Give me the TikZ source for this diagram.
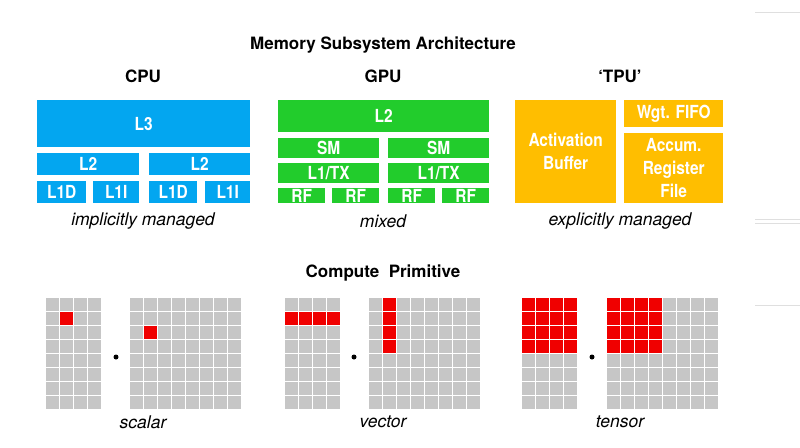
\documentclass[tikz,border=0pt]{standalone}
\usepackage{fontspec}
\setmainfont{TeX Gyre Heros}
\newfontfamily\narrowbf[FakeStretch=0.86]{TeX Gyre Heros}
\definecolor{cpublue}{RGB}{3,166,240}
\definecolor{gpugreen}{RGB}{34,204,44}
\definecolor{tpuorange}{RGB}{255,190,0}
\definecolor{cellgray}{RGB}{198,198,198}
\definecolor{cellred}{RGB}{240,0,0}
\begin{document}
\begin{tikzpicture}[x=1pt,y=-1pt,
  blk/.style={draw=none,anchor=north west,inner sep=0pt,align=center,text=white,
    font=\narrowbf\fontsize{18}{23}\selectfont\bfseries},
  head/.style={font=\fontsize{17}{19}\selectfont\bfseries},
  lbl/.style={font=\fontsize{17.5}{19}\selectfont\itshape}]
\useasboundingbox (0,0) rectangle (800,447);
% slide edge artefacts
\foreach \yy in {12,219,223,305}
  \draw[gray!25,line width=0.8pt] (755,\yy) -- (800,\yy);

% block macro: name, x1, y1, x2, y2, colour, text
\def\blockat#1#2#3#4#5#6#7{%
  \node[blk,fill=#6,minimum width={#4-#2},minimum height={#5-#3}] (#1) at (#2,#3) {#7};}

\node[head] (title) at (383,45) {Memory Subsystem Architecture};
\node[head] (cpu) at (143,76) {CPU};
\node[head] (gpu) at (383,76) {GPU};
\node[head] (tpu) at (620,76) {‘TPU’};

% CPU
\blockat{l3}{37}{100}{250}{147}{cpublue}{L3}
\blockat{cl2a}{37}{153}{139}{175}{cpublue}{L2}
\blockat{cl2b}{149}{153}{250}{175}{cpublue}{L2}
\blockat{l1da}{37}{181}{86}{203}{cpublue}{L1D}
\blockat{l1ia}{93}{181}{139}{203}{cpublue}{L1I}
\blockat{l1db}{149}{181}{197}{203}{cpublue}{L1D}
\blockat{l1ib}{205}{181}{250}{203}{cpublue}{L1I}

% GPU
\blockat{gl2}{278}{100}{489}{132}{gpugreen}{L2}
\blockat{sma}{278}{138}{379}{158}{gpugreen}{SM}
\blockat{smb}{388}{138}{489}{158}{gpugreen}{SM}
\blockat{txa}{278}{163}{379}{183}{gpugreen}{L1/TX}
\blockat{txb}{388}{163}{489}{183}{gpugreen}{L1/TX}
\blockat{rfa}{278}{188}{325}{203}{gpugreen}{RF}
\blockat{rfb}{332}{188}{379}{203}{gpugreen}{RF}
\blockat{rfc}{388}{188}{435}{203}{gpugreen}{RF}
\blockat{rfd}{442}{188}{489}{203}{gpugreen}{RF}

% TPU
\blockat{act}{515}{100}{616}{203}{tpuorange}{Activation\\Buffer}
\blockat{wgt}{624}{100}{723}{127}{tpuorange}{Wgt. FIFO}
\blockat{acc}{624}{133}{723}{203}{tpuorange}{Accum.\\Register\\File}

\node[lbl] (impl) at (143,221) {implicitly managed};
\node[lbl] (mixed) at (383,221) {mixed};
\node[lbl] (expl) at (620,221) {explicitly managed};

\node[head] (comp) at (383,273) {Compute\ \ Primitive};

% grid: x0, columns, red test on \c (col) and \r (row)
\def\grid#1#2#3{%
  \foreach \c in {1,...,#2} \foreach \r in {1,...,8} {%
    \pgfmathtruncatemacro{\isred}{#3}%
    \ifnum\isred=1 \def\fc{cellred}\else\def\fc{cellgray}\fi
    \fill[\fc] ({#1+(\c-1)*14},{298+(\r-1)*14}) rectangle ++(12.5,12.5);}}

% scalar
\grid{46}{4}{and(\c==2,\r==2)}
\grid{130}{8}{and(\c==2,\r==3)}
\fill (116,357) circle (2.5);
% vector
\grid{285}{4}{\r==2}
\grid{369}{8}{and(\c==2,\r<5)}
\fill (354,357) circle (2.5);
% tensor
\grid{522}{4}{\r<5}
\grid{607}{8}{and(\c<5,\r<5)}
\fill (592,357) circle (2.5);

\node[lbl] (scal) at (143,422) {scalar};
\node[lbl] (vec) at (383,422) {vector};
\node[lbl] (tens) at (620,422) {tensor};
\end{tikzpicture}
\end{document}
